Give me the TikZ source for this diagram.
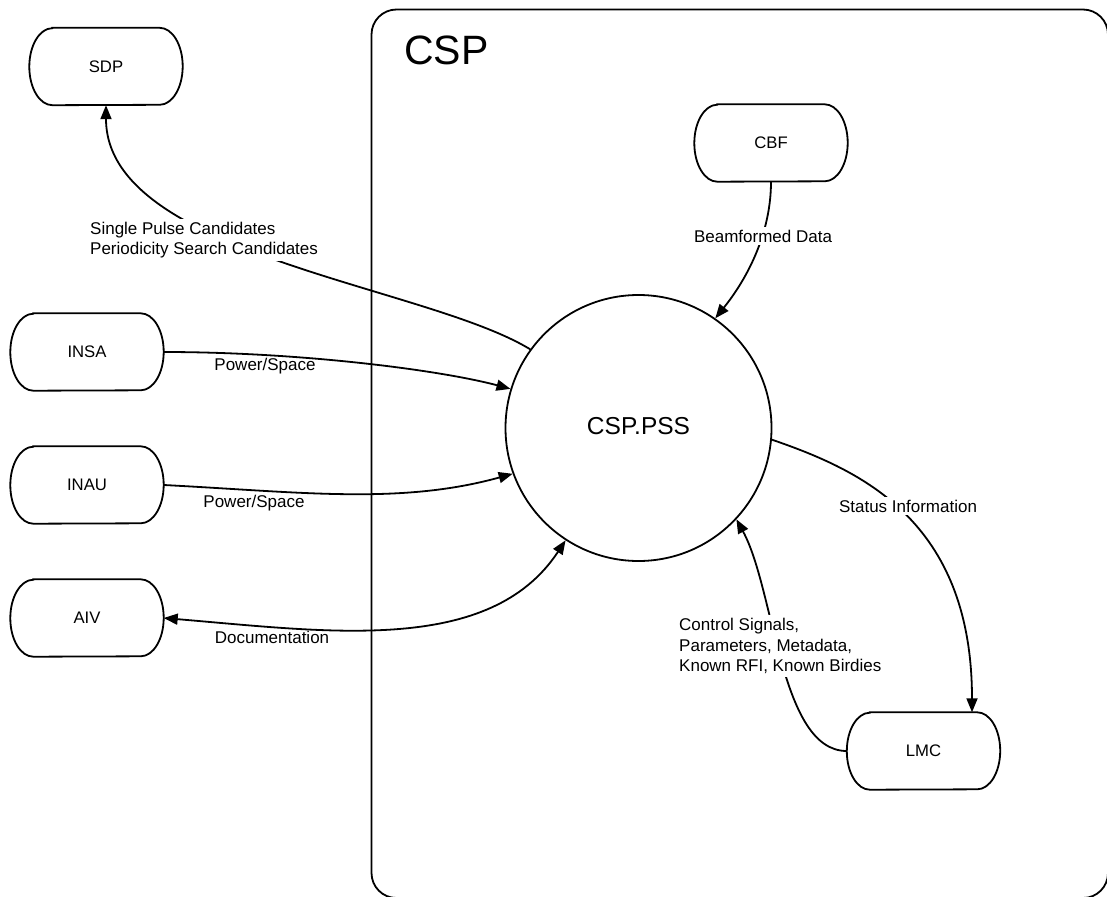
\documentclass[tikz,border=0pt]{standalone}
\usepackage{fontspec}
\setmainfont{Liberation Sans}
\usetikzlibrary{arrows.meta}

% A terminator-style box: straight top and bottom, half-ellipse ends.
\newcommand\pill[3]{%
  \node[pill] (#1) at (#2) {#3};
  \draw[outline] ([xshift=23pt]#1.north west) -- ([xshift=-23pt]#1.north east)
    arc[start angle=-90,end angle=90,x radius=23,y radius=38.5]
    -- ([xshift=23pt]#1.south west)
    arc[start angle=90,end angle=270,x radius=23,y radius=38.5] -- cycle;}

\begin{document}
\begin{tikzpicture}[x=1pt,y=-1pt,
  outline/.style={line width=1.8pt},
  pill/.style={minimum width=153pt,minimum height=77pt,inner sep=0pt,
    font=\fontsize{16.7}{20}\selectfont},
  flow/.style={line width=1.8pt,-{Triangle[length=14pt,width=11pt]}},
  flowboth/.style={line width=1.8pt,{Triangle[length=14pt,width=11pt]}-{Triangle[length=14pt,width=11pt]}},
  lbl/.style={font=\fontsize{17}{20.5}\selectfont,inner sep=3pt,align=left},
  cover/.style={fill=white}]

\path[use as bounding box,clip] (0,0) rectangle (1107,896);

% CSP boundary
\draw[outline,rounded corners=25pt] (371.5,9.5) rectangle (1108,898);
\node[anchor=base west,inner sep=0pt,font=\fontsize{41}{45}\selectfont] (csp) at (404,65) {CSP};

% Process bubble
\node[circle,draw,line width=1.8pt,minimum size=266pt,inner sep=0pt,
  font=\fontsize{24.5}{28}\selectfont] (pss) at (638.5,428) {\raisebox{4pt}{CSP.PSS}};

% External and internal entities
\pill{sdp}{106,66.5}{SDP}
\pill{cbf}{771,143}{CBF}
\pill{insa}{87,352}{INSA}
\pill{inau}{87,485}{INAU}
\pill{aiv}{87,618}{AIV}
\pill{lmc}{923.5,751}{LMC}

% Data flows
\draw[flow] (pss.144) .. controls (425,285) and (106,255) .. (sdp.south);
\node[lbl,cover,anchor=west] (lsdp) at (87,240) {Single Pulse Candidates\\Periodicity Search Candidates};

\draw[flow] (insa.east) .. controls (300,352) and (440,370) .. (pss.163);
\node[lbl] (linsa) at (265,366) {Power/Space};

\draw[flow] (inau.east) .. controls (300,492) and (400,505) .. (pss.200);
\node[lbl] (linau) at (254,503) {Power/Space};

\draw[flowboth] (aiv.east) .. controls (330,632) and (490,655) .. (pss.237);
\node[lbl] (laiv) at (272,637) {Documentation};

\draw[flow] (cbf.south) .. controls (771,230) and (750,275) .. (pss.55);
\node[lbl,cover] (lcbf) at (763,236) {Beamformed Data};

\draw[flow] (pss.-5) .. controls (860,470) and (972,520) .. ([xshift=48.5pt]lmc.north);
\node[lbl,cover] (lstat) at (908,506) {Status Information};

\draw[flow] (lmc.west) .. controls (780,751) and (775,590) .. (pss.-43);
\node[lbl,cover,anchor=west] (lctl) at (676,646) {Control Signals,\\Parameters, Metadata,\\Known RFI, Known Birdies};

\end{tikzpicture}
\end{document}
